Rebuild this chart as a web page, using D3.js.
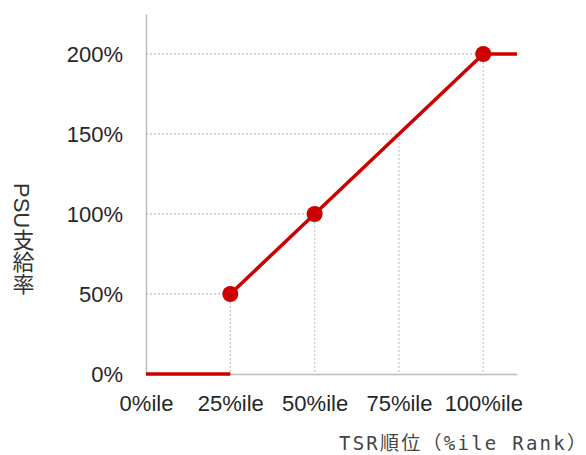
<!DOCTYPE html>
<html>
<head>
<meta charset="utf-8">
<script src="https://cdn.jsdelivr.net/npm/d3@7"></script>
<style>
  body { margin: 0; background: #fff; }
  svg { display: block; }
</style>
</head>
<body>
<div id="chart"></div>
<script>
// data
const xTicks = [0, 25, 50, 75, 100];
const xTickLabels = ['0%ile', '25%ile', '50%ile', '75%ile', '100%ile'];
const yTicks = [0, 50, 100, 150, 200];
const yTickLabels = ['0%', '50%', '100%', '150%', '200%'];
const lowRank = [0, 25];
const lowRate = [0, 0];
const rampRank = [25, 50, 75, 100, 110];
const rampRate = [50, 100, 150, 200, 200];
const markerRank = [25, 50, 100];
const markerRate = [50, 100, 200];
const dropRank = [25, 50, 75, 100];
const dropRate = [50, 100, 150, 200];
const xTitle = 'TSR順位（%ile Rank）';
const yTitle = 'PSU支給率';

const width = 586, height = 455;
const margin = {top: 14, left: 146, bottom: 81, right: 69};

const svg = d3.select('#chart').append('svg')
    .attr('width', width).attr('height', height);

const x = d3.scaleLinear().domain([0, 110]).range([margin.left, width - margin.right]);
const y = d3.scaleLinear().domain([0, 225]).range([height - margin.bottom, margin.top]);

const red = '#cc0000';
const grey = '#bdbdbd';

// drop lines
const drops = svg.append('g').attr('class', 'drops');
dropRank.forEach((r, i) => {
    drops.append('line')
        .attr('x1', x(0)).attr('x2', x(r))
        .attr('y1', y(dropRate[i])).attr('y2', y(dropRate[i]));
    drops.append('line')
        .attr('x1', x(r)).attr('x2', x(r))
        .attr('y1', y(dropRate[i])).attr('y2', y(0));
});
drops.selectAll('line')
    .attr('stroke', '#c8c8c8').attr('stroke-width', 1.3)
    .attr('stroke-dasharray', '2,2');

// axes
const xAxis = svg.append('g')
    .attr('transform', `translate(0, ${y(0)})`)
    .call(d3.axisBottom(x).tickValues(xTicks).tickSize(0)
        .tickFormat((d, i) => xTickLabels[i]));
const yAxis = svg.append('g')
    .attr('transform', `translate(${x(0)}, 0)`)
    .call(d3.axisLeft(y).tickValues(yTicks).tickSize(0)
        .tickFormat((d, i) => yTickLabels[i]));

[xAxis, yAxis].forEach(a => {
    a.select('.domain').attr('stroke', grey).attr('stroke-width', 1.5);
    a.selectAll('text')
        .attr('fill', '#262626')
        .style('font-family', '"Liberation Sans", Arial, sans-serif')
        .style('font-size', '22px');
});
xAxis.selectAll('text').attr('dy', '1.55em');
yAxis.selectAll('text').attr('x', -23).attr('dy', '0.36em');

// lines
const line = d3.line().x(d => x(d[0])).y(d => y(d[1]));
svg.append('path')
    .datum(lowRank.map((r, i) => [r, lowRate[i]]))
    .attr('d', line)
    .attr('fill', 'none').attr('stroke', red).attr('stroke-width', 3.5);
svg.append('path')
    .datum(rampRank.map((r, i) => [r, rampRate[i]]))
    .attr('d', line)
    .attr('fill', 'none').attr('stroke', red).attr('stroke-width', 3.5);

svg.append('g').selectAll('circle')
    .data(markerRank.map((r, i) => [r, markerRate[i]]))
    .join('circle')
    .attr('cx', d => x(d[0])).attr('cy', d => y(d[1]))
    .attr('r', 8).attr('fill', red);

// titles
svg.append('text')
    .attr('x', 586).attr('y', 450)
    .attr('text-anchor', 'end')
    .attr('textLength', 247).attr('lengthAdjust', 'spacing')
    .attr('fill', '#444')
    .style('font-family', '"DejaVu Sans Mono", "Noto Sans CJK JP", monospace')
    .style('font-size', '19px')
    .text(xTitle);

svg.append('text')
    .attr('x', 21).attr('y', 183)
    .style('writing-mode', 'vertical-rl')
    .style('text-orientation', 'mixed')
    .attr('fill', '#333')
    .style('font-family', '"Liberation Sans", "Noto Sans CJK JP", sans-serif')
    .style('font-size', '22px')
    .text(yTitle);
</script>
</body>
</html>
